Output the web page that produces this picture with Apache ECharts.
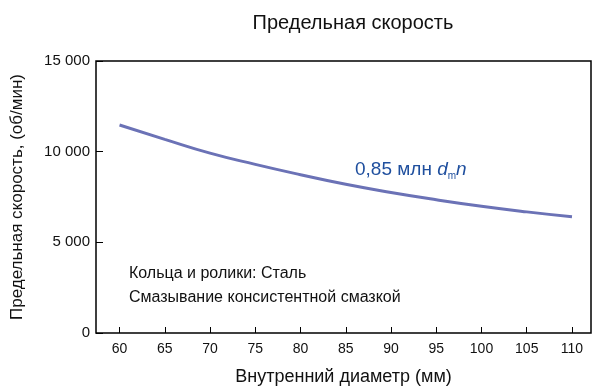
<!DOCTYPE html>
<html>
<head>
<meta charset="utf-8">
<script src="https://cdn.jsdelivr.net/npm/echarts@6/dist/echarts.min.js"></script>
<style>
  html, body { margin: 0; padding: 0; background: #fff; }
  #chart { width: 595px; height: 386px; }
</style>
</head>
<body>
<div id="chart"></div>
<script>
// inner diameter, mm
const diameters = [60, 65, 70, 75, 80, 85, 90, 95, 100, 105, 110];
// limiting speed, rpm
const speeds = [11470, 10680, 9920, 9300, 8730, 8200, 7750, 7350, 6990, 6680, 6410];
const yTicks = [0, 5000, 10000, 15000];

const font = 'Liberation Sans, Arial, sans-serif';

const chart = echarts.init(document.getElementById('chart'));

chart.setOption({
  animation: false,
  textStyle: { fontFamily: font },
  title: {
    text: 'Предельная скорость',
    left: 348,
    top: 8,
    textAlign: 'center',
    textStyle: { fontSize: 20, fontWeight: 'normal', color: '#111', fontFamily: font }
  },
  grid: {
    left: 96,
    top: 61,
    right: 4,
    bottom: 53,
    outerBoundsMode: 'none',
    containLabel: false,
    show: true,
    borderColor: '#000',
    borderWidth: 1.5
  },
  xAxis: {
    type: 'value',
    min: 57.4,
    max: 112.1,
    name: 'Внутренний диаметр (мм)',
    nameLocation: 'middle',
    nameGap: 35,
    nameTextStyle: { fontSize: 18, color: '#111' },
    axisLine: { show: false },
    splitLine: { show: false },
    axisTick: {
      show: true,
      inside: true,
      length: 6,
      customValues: diameters,
      lineStyle: { color: '#000', width: 1 }
    },
    axisLabel: {
      customValues: diameters,
      margin: 9,
      fontSize: 14,
      color: '#111'
    }
  },
  yAxis: {
    type: 'value',
    min: 0,
    max: 15000,
    interval: 5000,
    name: 'Предельная скорость, (об/мин)',
    nameLocation: 'middle',
    nameGap: 70,
    nameTextStyle: { fontSize: 17, color: '#111' },
    axisLine: { show: false },
    splitLine: { show: false },
    axisTick: {
      show: true,
      inside: true,
      length: 7,
      customValues: yTicks,
      lineStyle: { color: '#000', width: 1 }
    },
    axisLabel: {
      margin: 6,
      fontSize: 15,
      color: '#111',
      formatter: v => String(v).replace(/\B(?=(\d{3})+(?!\d))/g, ' ')
    }
  },
  series: [
    {
      type: 'line',
      data: diameters.map((d, i) => [d, speeds[i]]),
      smooth: true,
      showSymbol: false,
      lineStyle: { color: '#6b72b6', width: 3 }
    }
  ],
  graphic: [
    {
      type: 'text',
      left: 355,
      top: 160,
      style: {
        text: '{a|0,85 млн }{i|d}{s|m}{i|n}',
        rich: {
          a: { fontSize: 19, fill: '#1f4f9e', fontFamily: font, lineHeight: 22, verticalAlign: 'bottom' },
          i: { fontSize: 19, fill: '#1f4f9e', fontStyle: 'italic', fontFamily: font, lineHeight: 22, verticalAlign: 'bottom' },
          s: { fontSize: 10, fill: '#1f4f9e', fontFamily: font, lineHeight: 22, verticalAlign: 'bottom', padding: [0, 0, -2, 0] }
        }
      }
    },
    {
      type: 'text',
      left: 129,
      top: 262,
      style: {
        text: 'Кольца и ролики: Сталь\nСмазывание консистентной смазкой',
        fontSize: 16,
        lineHeight: 24,
        fill: '#111',
        fontFamily: font
      }
    }
  ]
});
</script>
</body>
</html>
